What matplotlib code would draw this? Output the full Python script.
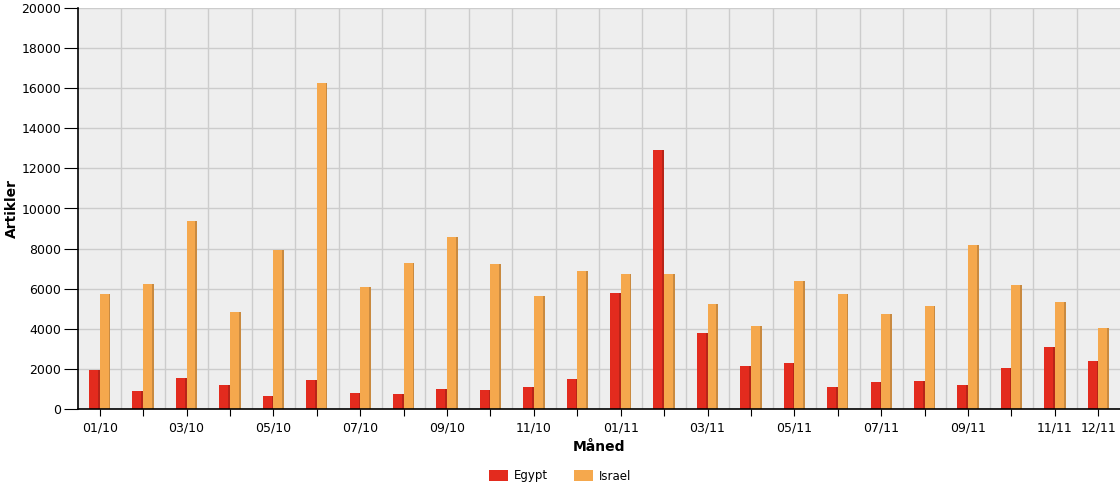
import matplotlib
matplotlib.use('Agg')
import matplotlib.pyplot as plt
import numpy as np

months = ['01/10', '02/10', '03/10', '04/10', '05/10', '06/10', '07/10', '08/10',
          '09/10', '10/10', '11/10', '12/10', '01/11', '02/11', '03/11', '04/11',
          '05/11', '06/11', '07/11', '08/11', '09/11', '10/11', '11/11', '12/11']
egypt = [1950, 900, 1550, 1200, 650, 1450, 800, 750, 1000, 950, 1100, 1500,
         5800, 12900, 3800, 2150, 2300, 1100, 1350, 1400, 1200, 2050, 3100, 2400]
israel = [5750, 6250, 9400, 4850, 7950, 16250, 6100, 7300, 8600, 7250, 5650, 6900,
          6750, 6750, 5250, 4150, 6400, 5750, 4750, 5150, 8200, 6200, 5350, 4050]

# only every other month gets a label, plus the last one
shown = [m if (i % 2 == 0 or i == len(months) - 1) else '' for i, m in enumerate(months)]

fig = plt.figure(figsize=(11.2, 4.92), dpi=100)
ax = fig.add_axes([78/1120, 1 - 409/492, 1042/1120, 401/492])
ax.set_facecolor('#eeeeee')

x = np.arange(len(months))
w = 0.245
b1 = ax.bar(x - w/2, egypt, w, color='#e32b1e', label='Egypt', zorder=3)
b2 = ax.bar(x + w/2, israel, w, color='#f5a84d', label='Israel', zorder=3)
# darker right edge to mimic the shaded bars
ax.bar(x - w/2 + w*0.42, egypt, w*0.16, color='#b82418', zorder=4)
ax.bar(x + w/2 + w*0.42, israel, w*0.16, color='#c98a40', zorder=4)

ax.set_xlim(-0.5, len(months) - 0.5)
ax.set_ylim(0, 20000)
ax.set_yticks(np.arange(0, 20001, 2000))
ax.set_xticks(x)
ax.set_xticklabels(shown)
ax.set_xticks(x[:-1] + 0.5, minor=True)

ax.grid(axis='y', color='#cccccc', linewidth=1, zorder=0)
ax.grid(axis='x', which='minor', color='#cccccc', linewidth=1, zorder=0)
ax.tick_params(axis='x', which='minor', length=0)
ax.tick_params(axis='x', which='major', length=5, labelsize=9, pad=4)
ax.tick_params(axis='y', length=10, labelsize=9, pad=2)

for s in ['top', 'right']:
    ax.spines[s].set_visible(False)
for s in ['left', 'bottom']:
    ax.spines[s].set_linewidth(1.2)
    ax.spines[s].set_zorder(5)

ax.set_ylabel('Artikler', fontsize=10, fontweight='bold', labelpad=2)
ax.set_xlabel('Måned', fontsize=10, fontweight='bold', labelpad=4)

fig.legend(handles=[b1, b2], labels=['Egypt', 'Israel'], loc='center',
           bbox_to_anchor=(0.5, 1 - 476/492), ncol=2, frameon=False, fontsize=8.5,
           handlelength=1.6, handleheight=1.0, columnspacing=2.2, handletextpad=0.5)

fig.savefig('out.png', dpi=100)
